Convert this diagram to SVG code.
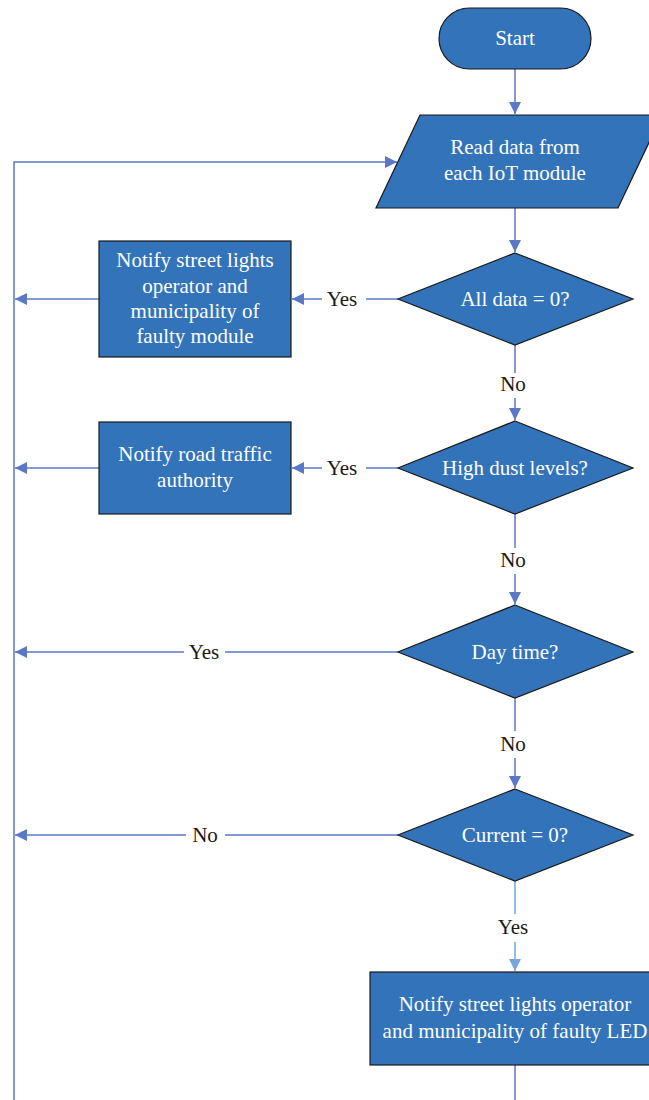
<svg xmlns="http://www.w3.org/2000/svg" width="649" height="1100" viewBox="0 0 649 1100">
<style>
.n{fill:#3273b9;stroke:#1a1a1a;stroke-width:1.2}
.t{font-family:"Liberation Serif",serif;font-size:21px;fill:#ffffff;text-anchor:middle}
.l{font-family:"Liberation Serif",serif;font-size:21px;fill:#1a1a1a;text-anchor:middle}
.c{fill:none;stroke:#5a78c6;stroke-width:1.5}
.c2{fill:none;stroke:#76a6da;stroke-width:1.5}
</style>
<defs>
<marker id="a" viewBox="0 0 12 12" refX="12" refY="6" markerWidth="12" markerHeight="12" markerUnits="userSpaceOnUse" orient="auto"><path d="M0,0 L12,6 L0,12 Z" fill="#5a78c6"/></marker>
<marker id="b" viewBox="0 0 12 12" refX="12" refY="6" markerWidth="12" markerHeight="12" markerUnits="userSpaceOnUse" orient="auto"><path d="M0,0 L12,6 L0,12 Z" fill="#76a6da"/></marker>
</defs>
<g id="connectors">
<path class="c" d="M515,69 V114" marker-end="url(#a)"/>
<path class="c" d="M14,1100 V162 H397" marker-end="url(#a)"/>
<path class="c" d="M515,208 V252" marker-end="url(#a)"/>
<path class="c" d="M398,299 H366 M322,299 H292" marker-end="url(#a)"/>
<path class="c" d="M99,299 H15" marker-end="url(#a)"/>
<path class="c" d="M515,345 V373 M515,398 V420" marker-end="url(#a)"/>
<path class="c" d="M398,468 H366 M322,468 H292" marker-end="url(#a)"/>
<path class="c" d="M99,468 H15" marker-end="url(#a)"/>
<path class="c" d="M515,514 V548 M515,574 V604" marker-end="url(#a)"/>
<path class="c" d="M398,652 H225 M184,652 H15" marker-end="url(#a)"/>
<path class="c" d="M515,698 V731 M515,758 V788" marker-end="url(#a)"/>
<path class="c" d="M398,835 H225 M186,835 H15" marker-end="url(#a)"/>
<path class="c2" d="M515,881 V914 M515,942 V971" marker-end="url(#b)"/>
<path class="c" d="M515,1065 V1100"/>
<text class="l" x="342" y="306">Yes</text>
<text class="l" x="513" y="391">No</text>
<text class="l" x="342" y="475">Yes</text>
<text class="l" x="513" y="567">No</text>
<text class="l" x="204" y="659">Yes</text>
<text class="l" x="513" y="751">No</text>
<text class="l" x="205" y="842">No</text>
<text class="l" x="513" y="934">Yes</text>
</g>
<g id="start">
<rect class="n" x="439" y="8" width="152" height="61" rx="30.5"/>
<text class="t" x="515" y="45">Start</text>
</g>
<g id="read">
<path class="n" d="M420,115 H662 L618,208 H376 Z"/>
<text class="t" x="515" y="154">Read data from</text>
<text class="t" x="515" y="180">each IoT module</text>
</g>
<g id="d1">
<path class="n" d="M515,253 L633,299 L515,345 L398,299 Z"/>
<text class="t" x="515" y="306">All data = 0?</text>
</g>
<g id="r1">
<rect class="n" x="99" y="241" width="192" height="116"/>
<text class="t" x="195" y="267">Notify street lights</text>
<text class="t" x="195" y="293">operator and</text>
<text class="t" x="195" y="318">municipality of</text>
<text class="t" x="195" y="343">faulty module</text>
</g>
<g id="d2">
<path class="n" d="M515,421 L633,468 L515,514 L398,468 Z"/>
<text class="t" x="515" y="475">High dust levels?</text>
</g>
<g id="r2">
<rect class="n" x="99" y="422" width="192" height="92"/>
<text class="t" x="195" y="461">Notify road traffic</text>
<text class="t" x="195" y="487">authority</text>
</g>
<g id="d3">
<path class="n" d="M515,605 L633,652 L515,698 L398,652 Z"/>
<text class="t" x="515" y="659">Day time?</text>
</g>
<g id="d4">
<path class="n" d="M515,789 L633,835 L515,881 L398,835 Z"/>
<text class="t" x="515" y="842">Current = 0?</text>
</g>
<g id="r3">
<rect class="n" x="370" y="972" width="290" height="93"/>
<text class="t" x="515" y="1011">Notify street lights operator</text>
<text class="t" x="515" y="1038">and municipality of faulty LED</text>
</g>
</svg>
